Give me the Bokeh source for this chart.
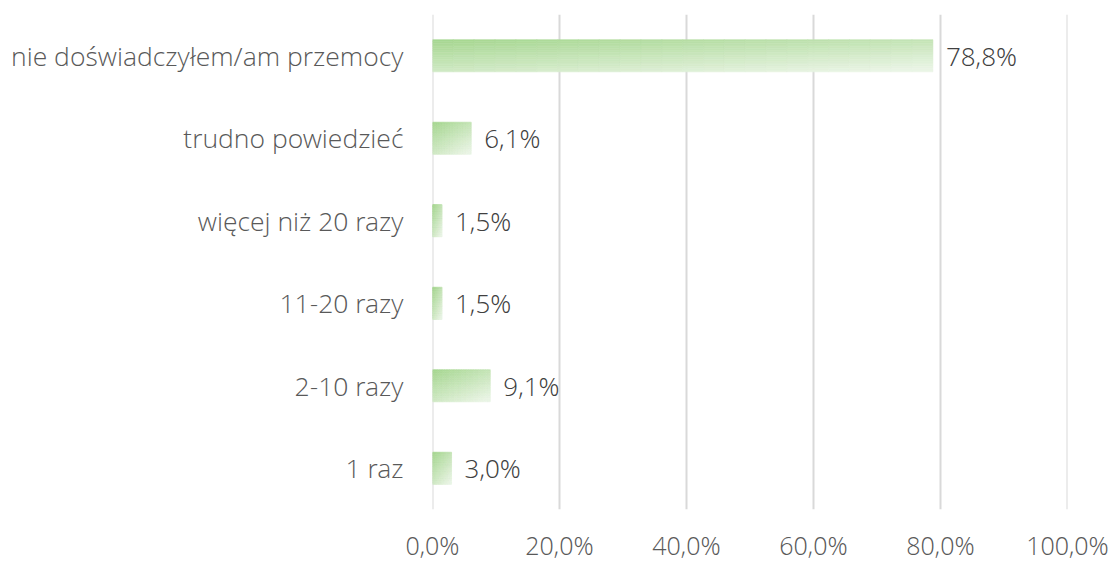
import numpy as np
from bokeh.plotting import figure
from bokeh.models import ColumnDataSource, FactorRange, Range1d, FixedTicker, Span
from bokeh.transform import dodge
from bokeh.core.properties import value
from bokeh.embed import file_html
from bokeh.resources import INLINE

# ---- data (bottom to top) ----
categories = ["1 raz", "2-10 razy", "11-20 razy", "więcej niż 20 razy",
              "trudno powiedzieć", "nie doświadczyłem/am przemocy"]
values = [3.0, 9.1, 1.5, 1.5, 6.1, 78.8]
value_labels = ["3,0%", "9,1%", "1,5%", "1,5%", "6,1%", "78,8%"]
x_ticks = [0, 20, 40, 60, 80, 100]
x_tick_labels = ["0,0%", "20,0%", "40,0%", "60,0%", "80,0%", "100,0%"]

FONT = "Open Sans Light"
W, H = 1110, 564

p = figure(width=W, height=H, output_backend="svg", toolbar_location=None,
           y_range=FactorRange(factors=categories), x_range=Range1d(0, 100),
           min_border_left=432, min_border_right=43, min_border_top=14,
           min_border_bottom=54)
p.outline_line_color = None
p.background_fill_color = "white"

# grid
p.ygrid.grid_line_color = None
p.xgrid.grid_line_color = "#d9d9d9"
p.xgrid.grid_line_width = 2
p.xgrid.ticker = FixedTicker(ticks=x_ticks)
for t in (x_ticks[0], x_ticks[-1]):
    p.add_layout(Span(location=t, dimension="height", line_color="#d9d9d9",
                      line_width=2, level="underlay"))

# gradient bars: top-left darker green -> bottom-right lighter green
c0 = np.array([166, 215, 144])
c1 = np.array([234, 245, 229])
bar_h = 0.39
NV, NH = 18, 24
for j in range(NV):
    v = (j + 0.5) / NV          # 0 = top, 1 = bottom
    off = bar_h / 2 - (j + 0.5) * bar_h / NV
    ys, ls, rs, cs = [], [], [], []
    for cat, val in zip(categories, values):
        for k in range(NH):
            h = (k + 0.5) / NH
            t = min(1.0, 0.62 * v + 0.45 * h)
            c = (c0 + (c1 - c0) * t).astype(int)
            col = "#%02x%02x%02x" % tuple(c)
            ys.append(cat); ls.append(val * k / NH); rs.append(val * (k + 1) / NH); cs.append(col)
    src = ColumnDataSource(dict(y=ys, left=ls, right=rs, color=cs))
    p.hbar(y=dodge("y", off, range=p.y_range), left="left", right="right",
           height=bar_h / NV * 1.02, fill_color="color", line_color="color",
           line_width=0.6, source=src)

# value labels
lsrc = ColumnDataSource(dict(y=categories, x=values, t=value_labels))
p.text(x="x", y="y", text="t", source=lsrc, x_offset=13,
       text_align="left", text_baseline="middle",
       text_font=value(FONT), text_font_size="26px", text_color="#404040")

# axes
xa = p.xaxis[0]
xa.ticker = FixedTicker(ticks=x_ticks)
xa.major_label_overrides = {t: l for t, l in zip(x_ticks, x_tick_labels)}
xa.axis_line_color = None
xa.major_tick_line_color = None
xa.minor_tick_line_color = None
xa.major_label_text_font = FONT
xa.major_label_text_font_size = "25px"
xa.major_label_text_color = "#595959"
xa.major_label_standoff = 12

ya = p.yaxis[0]
ya.axis_line_color = None
ya.major_tick_line_color = None
ya.major_label_text_font = FONT
ya.major_label_text_font_size = "26.5px"
ya.major_label_text_color = "#595959"
ya.major_label_standoff = 23

open("out.html", "w").write(file_html(p, INLINE))
